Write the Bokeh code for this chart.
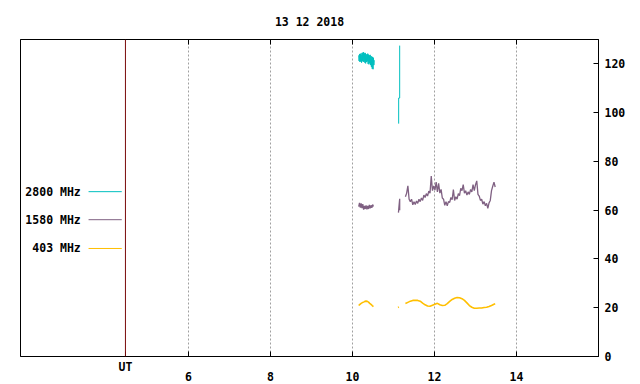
from bokeh.plotting import figure
from bokeh.models import FixedTicker, LinearAxis, Span, Label, Range1d
from bokeh.embed import file_html
from bokeh.resources import INLINE

# ---------------- data ----------------
TITLE = "13 12 2018"
X_TICKS = [6, 8, 10, 12, 14]
Y_TICKS = [0, 20, 40, 60, 80, 100, 120]
UT_X = 4.46
UT_LABEL = "UT"

series_names = ["2800 MHz", "1580 MHz", "403 MHz"]
series_colors = ["#00bfbf", "#7f6082", "#ffbf00"]

# 2800 MHz
t2800_a = [10.15, 10.16, 10.17, 10.18, 10.19, 10.20, 10.21, 10.22, 10.23, 10.24,
           10.25, 10.26, 10.27, 10.28, 10.29, 10.30, 10.31, 10.32, 10.33, 10.34,
           10.35, 10.36, 10.37, 10.38, 10.39, 10.40, 10.41, 10.42, 10.43, 10.44,
           10.45, 10.46, 10.47, 10.48, 10.49, 10.50, 10.51, 10.52, 10.53]
v2800_a = [123.5, 121.2, 124.0, 120.8, 124.2, 121.0, 123.8, 120.5, 124.5, 121.2,
           124.6, 120.8, 124.8, 121.0, 124.3, 120.5, 124.5, 120.2, 124.0, 120.8,
           123.8, 121.0, 124.2, 120.0, 123.8, 119.8, 123.5, 120.3, 123.7, 119.5,
           123.2, 118.8, 123.0, 118.0, 122.8, 117.8, 122.5, 119.5, 121.5]
t2800_b = [11.125, 11.125, 11.15, 11.15]
v2800_b = [95.5, 106.0, 106.0, 127.5]

# 1580 MHz
t1580_a = [10.15, 10.17, 10.19, 10.21, 10.23, 10.25, 10.27, 10.29, 10.31, 10.33,
           10.35, 10.37, 10.39, 10.41, 10.43, 10.45, 10.47, 10.49, 10.51]
v1580_a = [61.5, 63.0, 61.0, 62.8, 60.8, 62.5, 60.2, 61.8, 60.5, 62.0,
           60.3, 61.8, 60.5, 62.2, 60.8, 62.0, 61.0, 62.3, 61.5]
t1580_b = [11.12, 11.13, 11.15, 11.15]
v1580_b = [59.0, 61.0, 64.7, 60.0]
t1580_c = [11.29, 11.32, 11.35, 11.38, 11.41, 11.44, 11.47, 11.50, 11.53, 11.56,
           11.59, 11.62, 11.65, 11.68, 11.71, 11.74, 11.77, 11.80, 11.83, 11.86,
           11.89, 11.92, 11.95, 11.98, 12.01, 12.04, 12.07, 12.10, 12.13, 12.16,
           12.19, 12.22, 12.25, 12.28, 12.31, 12.34, 12.37, 12.40, 12.43, 12.46,
           12.49, 12.52, 12.55, 12.58, 12.61, 12.64, 12.67, 12.70, 12.73, 12.76,
           12.79, 12.82, 12.85, 12.88, 12.91, 12.94, 12.97, 13.00, 13.03, 13.06,
           13.09, 13.12, 13.15, 13.18, 13.21, 13.24, 13.27, 13.30, 13.33, 13.36,
           13.39, 13.42, 13.45, 13.48]
v1580_c = [65.5, 67.0, 70.0, 64.5, 63.5, 64.5, 62.2, 63.5, 62.3, 63.8,
           62.8, 64.5, 63.5, 65.0, 64.0, 66.2, 65.2, 66.8, 65.8, 67.8,
           67.0, 74.0, 68.0, 70.0, 68.2, 71.5, 67.5, 71.0, 67.0, 68.5,
           65.0, 64.5, 62.0, 63.5, 61.8, 63.5, 63.2, 65.2, 64.3, 68.5,
           64.0, 65.5, 64.5, 66.8, 66.0, 69.0, 68.0, 70.5, 67.0, 68.0,
           66.2, 67.5, 66.5, 68.5, 67.5, 70.5, 68.0, 70.5, 72.0, 66.5,
           65.8, 64.0, 64.5, 62.5, 63.5, 61.8, 62.8, 60.8, 63.0, 64.0,
           68.0, 69.8, 71.5, 69.5]

# 403 MHz
t403_a = [10.15, 10.18, 10.21, 10.24, 10.27, 10.30, 10.33, 10.36, 10.39, 10.42,
          10.45, 10.48, 10.51]
v403_a = [20.9, 21.4, 21.8, 22.1, 22.3, 22.6, 22.7, 22.6, 22.3, 21.8,
          21.4, 20.9, 20.5]
t403_b = [11.11, 11.13]
v403_b = [20.1, 20.3]
t403_c = [11.29, 11.35, 11.41, 11.47, 11.53, 11.59, 11.65, 11.71, 11.77, 11.83,
          11.89, 11.95, 12.01, 12.07, 12.13, 12.19, 12.25, 12.31, 12.37, 12.43,
          12.49, 12.55, 12.61, 12.67, 12.73, 12.79, 12.85, 12.91, 12.97, 13.03,
          13.09, 13.15, 13.21, 13.27, 13.33, 13.39, 13.45, 13.48]
v403_c = [21.7, 22.2, 22.7, 23.0, 23.1, 23.0, 22.7, 21.9, 21.2, 20.7,
          20.6, 21.0, 21.4, 21.8, 21.2, 20.9, 21.0, 21.7, 22.6, 23.4,
          23.9, 24.2, 24.1, 23.7, 23.0, 22.0, 20.9, 20.2, 19.8, 19.8,
          19.9, 19.9, 20.1, 20.2, 20.5, 20.9, 21.4, 21.6]

# ---------------- figure ----------------
FONT = "DejaVu Sans Mono"
FS = "11.5px"

p = figure(width=632, height=384, output_backend="svg", toolbar_location=None,
           x_range=Range1d(1.9, 16.0), y_range=Range1d(0, 130),
           x_axis_location=None, y_axis_location="right", title=TITLE,
           min_border_left=20, min_border_right=34, min_border_top=39,
           min_border_bottom=28)

p.title.align = "center"
p.title.text_font = FONT
p.title.text_font_size = FS
p.title.text_font_style = "bold"
p.title.text_color = "black"
p.title.standoff = 21

p.outline_line_color = "black"
p.outline_line_width = 1
p.background_fill_color = "white"
p.border_fill_color = "white"


def style(ax):
    ax.major_tick_in = 5
    ax.major_tick_out = 0
    ax.minor_tick_line_color = None
    ax.axis_line_color = "black"
    ax.major_tick_line_color = "black"
    ax.major_label_text_font = FONT
    ax.major_label_text_font_size = FS
    ax.major_label_text_font_style = "bold"
    ax.major_label_text_color = "black"


ya = p.yaxis[0]
ya.ticker = FixedTicker(ticks=Y_TICKS)
style(ya)
ya.major_label_standoff = 6

# inner bottom axis: tick marks at the frame and the "UT" label
ax_ut = LinearAxis(ticker=FixedTicker(ticks=[UT_X] + X_TICKS),
                   major_label_overrides={**{UT_X: UT_LABEL}, **{t: "" for t in X_TICKS}})
style(ax_ut)
ax_ut.major_label_standoff = 3
p.add_layout(ax_ut, "below")

# outer bottom axis: hour numbers, a little lower than "UT"
ax_num = LinearAxis(ticker=FixedTicker(ticks=X_TICKS))
style(ax_num)
ax_num.axis_line_color = None
ax_num.major_tick_line_color = None
ax_num.major_tick_in = 0
ax_num.major_label_standoff = -5
p.add_layout(ax_num, "below")

# mirrored top ticks
top = LinearAxis(ticker=FixedTicker(ticks=X_TICKS),
                 major_label_overrides={t: "" for t in X_TICKS})
style(top)
top.major_label_standoff = 0
p.add_layout(top, "above")

p.xgrid.ticker = FixedTicker(ticks=X_TICKS)
p.xgrid.grid_line_color = "#a0a0a0"
p.xgrid.grid_line_dash = "2 2"
p.ygrid.grid_line_color = None

p.add_layout(Span(location=UT_X, dimension="height", line_color="#7a0a0a", line_width=1))

# series
c28, c15, c4 = series_colors
for t, v in ((t2800_a, v2800_a), (t2800_b, v2800_b)):
    p.line(t, v, line_color=c28, line_width=1)
for t, v in ((t1580_a, v1580_a), (t1580_b, v1580_b), (t1580_c, v1580_c)):
    p.line(t, v, line_color=c15, line_width=1.3)
for t, v in ((t403_a, v403_a), (t403_b, v403_b), (t403_c, v403_c)):
    p.line(t, v, line_color=c4, line_width=1.6)

# key (left side, gnuplot style: label then sample line)
KEY_Y = [67.6, 56.1, 44.3]
for name, col, ky in zip(series_names, series_colors, KEY_Y):
    p.add_layout(Label(x=3.37, y=ky, text=name, text_align="right", text_baseline="middle",
                       text_font=FONT, text_font_size=FS, text_font_style="bold",
                       text_color="black"))
    p.line([3.56, 4.37], [ky, ky], line_color=col, line_width=1)

open("out.html", "w").write(file_html(p, INLINE))
